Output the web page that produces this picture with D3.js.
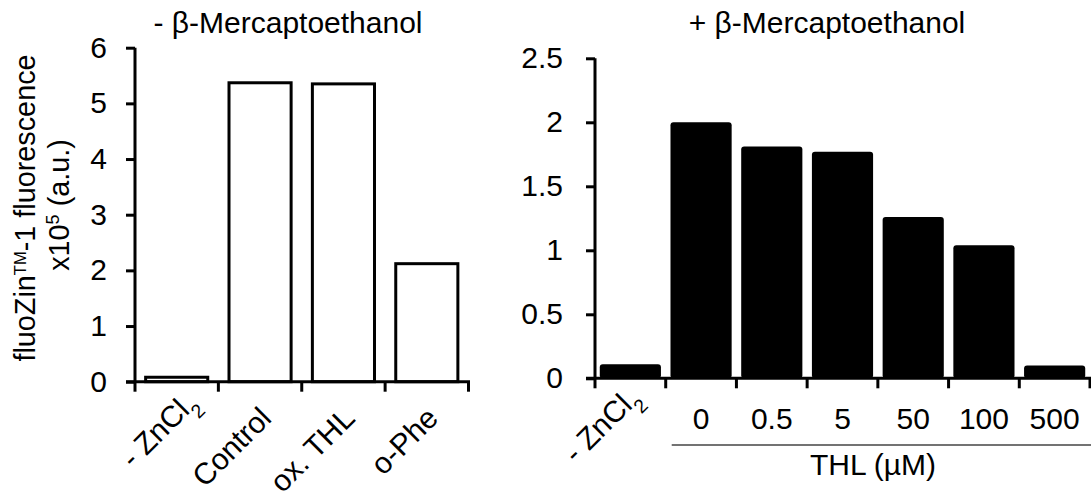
<!DOCTYPE html>
<html>
<head>
<meta charset="utf-8">
<script src="https://cdn.jsdelivr.net/npm/d3@7/dist/d3.min.js"></script>
<style>
  html, body { margin: 0; padding: 0; background: #fff; }
  text { font-family: "Liberation Sans", Arial, sans-serif; fill: #000; }
</style>
</head>
<body>
<svg id="chart" width="1091" height="497"></svg>
<script>
// Panel A: without β-mercaptoethanol
const leftCategories = ["-ZnCl2", "Control", "ox. THL", "o-Phe"];
const leftValues = [0.08, 5.37, 5.35, 2.12];
const leftTicks = [0, 1, 2, 3, 4, 5, 6];

// Panel B: with β-mercaptoethanol, THL concentration series
const rightCategories = ["-ZnCl2", "0", "0.5", "5", "50", "100", "500"];
const rightValues = [0.11, 2.0, 1.81, 1.77, 1.26, 1.04, 0.10];
const rightTicks = [0, 0.5, 1, 1.5, 2, 2.5];

const leftTitle = "- β-Mercaptoethanol";
const rightTitle = "+ β-Mercaptoethanol";
const thlLabel = "THL (µM)";

const FS = 30;
const svg = d3.select("#chart");

function drawPanel(opts) {
  const g = svg.append("g");
  const x = d3.scaleBand().domain(opts.categories).range([opts.x0, opts.x1]).padding(0);
  const y = d3.scaleLinear().domain([0, opts.yMax]).range([opts.yBottom, opts.yTop]);

  // bars
  const bw = x.bandwidth() * opts.barFrac;
  g.selectAll("rect.bar").data(opts.categories).join("rect")
    .attr("class", "bar")
    .attr("x", d => x(d) + (x.bandwidth() - bw) / 2)
    .attr("y", (d, i) => y(opts.values[i]))
    .attr("width", bw)
    .attr("height", (d, i) => y(0) - y(opts.values[i]))
    .attr("rx", opts.rx)
    .attr("fill", opts.fill)
    .attr("stroke", opts.stroke)
    .attr("stroke-width", opts.strokeWidth);

  // y axis
  const yAxis = d3.axisLeft(y).tickValues(opts.ticks).tickSize(9).tickPadding(opts.tickPad)
    .tickFormat(d3.format("~g"));
  const ya = g.append("g").attr("transform", `translate(${opts.x0},0)`).call(yAxis);
  ya.attr("font-size", FS).attr("font-family", "Liberation Sans, Arial, sans-serif");
  ya.select(".domain").attr("stroke", "#000").attr("stroke-width", 3)
    .attr("d", `M0,${opts.yTop}V${opts.yBottom}`);
  ya.selectAll(".tick line").attr("stroke", "#000").attr("stroke-width", 3);
  ya.selectAll(".tick text").attr("fill", "#000");

  // x axis with ticks on category boundaries
  const edges = opts.categories.map(c => x(c)).concat([opts.x1]);
  g.append("line").attr("x1", opts.x0 - 9).attr("x2", opts.x1 + 1.5)
    .attr("y1", y(0)).attr("y2", y(0)).attr("stroke", "#000").attr("stroke-width", 3);
  g.selectAll("line.xt").data(edges).join("line").attr("class", "xt")
    .attr("x1", d => d).attr("x2", d => d)
    .attr("y1", y(0)).attr("y2", y(0) + 10)
    .attr("stroke", "#000").attr("stroke-width", 3);

  // title
  g.append("text").attr("x", opts.titleX).attr("y", 33).attr("text-anchor", "middle")
    .attr("font-size", FS).text(opts.title);

  return { g, x, y };
}

// slanted category label whose baseline ends at (bx, by)
function slanted(g, bx, by, label) {
  const t = g.append("text")
    .attr("transform", `translate(${bx},${by}) rotate(-45)`)
    .attr("text-anchor", "end").attr("font-size", FS);
  if (label === "-ZnCl2") {
    t.append("tspan").text("- ZnCl");
    t.append("tspan").attr("baseline-shift", "sub").attr("font-size", FS * 0.65).text("2");
  } else {
    t.text(label);
  }
  return t;
}

// Left panel
const L = drawPanel({
  categories: leftCategories, values: leftValues, ticks: leftTicks, yMax: 6,
  x0: 135, x1: 468.5, yTop: 47.7, yBottom: 381.7,
  barFrac: 0.745, rx: 0, fill: "#fff", stroke: "#000", strokeWidth: 3,
  tickPad: 19, title: leftTitle, titleX: 288
});
leftCategories.forEach((c, i) => {
  const cx = L.x(c) + L.x.bandwidth() / 2;
  if (i === 0) slanted(L.g, cx + 22, 404, c);
  else slanted(L.g, cx + 13, 420, c);
});

// Right panel
const R = drawPanel({
  categories: rightCategories, values: rightValues, ticks: rightTicks, yMax: 2.5,
  x0: 595, x1: 1090, yTop: 58.3, yBottom: 378.3,
  barFrac: 0.865, rx: 3, fill: "#000", stroke: "none", strokeWidth: 0,
  tickPad: 23, title: rightTitle, titleX: 827
});
rightCategories.forEach((c, i) => {
  const cx = R.x(c) + R.x.bandwidth() / 2;
  if (i === 0) {
    slanted(R.g, cx + 11, 399, c);
  } else {
    R.g.append("text").attr("x", cx).attr("y", 429).attr("text-anchor", "middle")
      .attr("font-size", FS).text(c);
  }
});
// bracket line under the THL concentrations
const thlStart = R.x(rightCategories[1]) + 6;
R.g.append("line").attr("x1", thlStart).attr("x2", 1091).attr("y1", 445).attr("y2", 445)
  .attr("stroke", "#444").attr("stroke-width", 1.6);
R.g.append("text").attr("x", 873).attr("y", 475).attr("text-anchor", "middle")
  .attr("font-size", FS).text(thlLabel);

// y axis title (two lines)
const yt1 = svg.append("text").attr("transform", "translate(35,208) rotate(-90)")
  .attr("text-anchor", "middle").attr("font-size", FS * 0.96);
yt1.append("tspan").text("fluoZin");
yt1.append("tspan").attr("baseline-shift", "super").attr("font-size", FS * 0.55).text("TM");
yt1.append("tspan").text("-1 fluorescence");
const yt2 = svg.append("text").attr("transform", "translate(69,205) rotate(-90)")
  .attr("text-anchor", "middle").attr("font-size", FS * 0.96);
yt2.append("tspan").text("x10");
yt2.append("tspan").attr("baseline-shift", "super").attr("font-size", FS * 0.6).text("5");
yt2.append("tspan").text(" (a.u.)");
</script>
</body>
</html>
